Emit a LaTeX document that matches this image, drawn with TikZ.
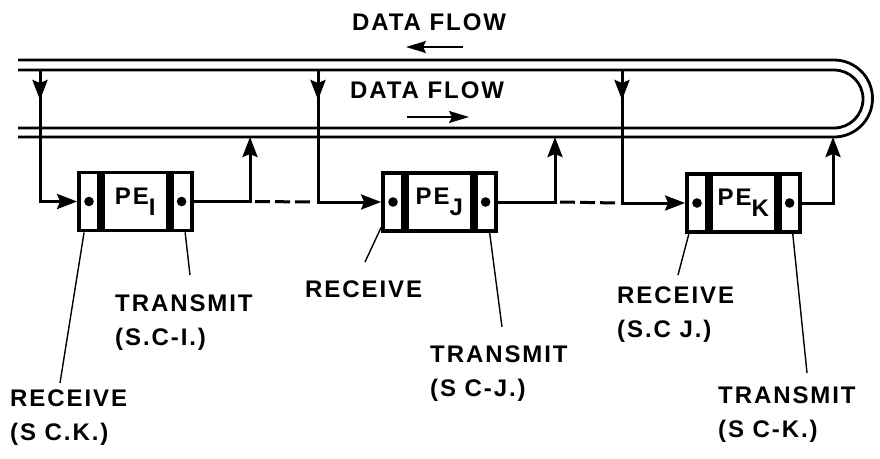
\documentclass[tikz,border=0pt]{standalone}
\usepackage{fontspec}
\setmainfont{Liberation Sans}[LetterSpace=8]
\usetikzlibrary{positioning}
\usetikzlibrary{arrows.meta}
\newcommand{\pesub}[1]{\raisebox{-0.45em}{#1}}
\tikzset{
  bus/.style={line width=2.8pt},
  link/.style={line width=3pt},
  flowline/.style={line width=2pt},
  dashlink/.style={line width=3pt, dash pattern=on 15pt off 5pt},
  tip/.style={-{Stealth[length=20pt,width=15pt,inset=3pt]}},
  thintip/.style={-{Stealth[length=20pt,width=12pt,inset=3pt]}},
  cell/.style={draw, line width=3.8pt, minimum width=20pt, minimum height=58pt, inner sep=0pt},
  core/.style={draw, line width=3.8pt, minimum width=65pt, minimum height=58pt, inner sep=0pt,
    font=\bfseries\fontsize{24}{24}\selectfont},
  lbl/.style={align=left, anchor=north west, inner sep=0pt,
    font=\bfseries\fontsize{24}{34}\selectfont},
  leader/.style={line width=1.4pt},
}

\begin{document}
\begin{tikzpicture}[x=1pt, y=-1pt]
  \useasboundingbox (0,0) rectangle (880,458);

  \draw[bus] (18,60) -- (834,60) arc[start angle=-90, end angle=90, radius=38.5] -- (18,137);
  \draw[bus] (18,70) -- (834,70) arc[start angle=-90, end angle=90, radius=29] -- (18,128);

  \node[lbl] (topflow) at (352,14) {DATA FLOW};
  \node[lbl] (lowflow) at (350,82) {DATA FLOW};
  \coordinate (backA) at (463,47);
  \coordinate (backB) at (406,47);
  \coordinate (fwdA)  at (407,117);
  \coordinate (fwdB)  at (469,117);
  \draw[flowline, thintip] (backA) -- (backB);
  \draw[flowline, thintip] (fwdA) -- (fwdB);

  \coordinate (tapI) at (40,70);
  \coordinate (tapJ) at (318,70);
  \coordinate (tapK) at (622,70);
  \coordinate (upI)  at (250,137);
  \coordinate (upJ)  at (555,137);
  \coordinate (upK)  at (833,137);

  \node[cell] (rI) at (89,201.5) {};
  \node[core, right=0pt of rI] (cI) {PE\pesub{I}};
  \node[cell, right=0pt of cI] (tI) {};

  \node[cell] (rJ) at (393,202) {};
  \node[core, right=0pt of rJ] (cJ) {PE\pesub{J}};
  \node[cell, right=0pt of cJ] (tJ) {};

  \node[cell] (rK) at (697,203) {};
  \node[core, right=0pt of rK] (cK) {PE\pesub{K}};
  \node[cell, right=0pt of cK] (tK) {};

  \foreach \c in {rI,tI,rJ,tJ,rK,tK}{%
    \fill (\c) circle (4.8);
  }

  \foreach \t/\r in {tapI/rI,tapJ/rJ,tapK/rK}{%
    \draw[link, tip] (\t) -- ++(0,30);
    \draw[link, tip] (\t) |- (\r.west);
  }
  \foreach \s/\u in {tI/upI,tJ/upJ,tK/upK}{%
    \draw[link, tip] (\s.east) -| (\u);
  }
  \draw[dashlink] ([xshift=5pt]tI.east -| upI) -- ([xshift=-5pt]rJ.west -| tapJ);
  \draw[dashlink] ([xshift=5pt]tJ.east -| upJ) -- ([xshift=-5pt]rK.west -| tapK);

  \node[lbl] (recvI)  at (10,390)  {RECEIVE\\(S C.K.)};
  \node[lbl] (sendI)  at (115,295) {TRANSMIT\\(S.C-I.)};
  \node[lbl] (recvJ)  at (305,281) {RECEIVE};
  \node[lbl] (sendJ)  at (430,346) {TRANSMIT\\(S C-J.)};
  \node[lbl] (recvK)  at (617,287) {RECEIVE\\(S.C J.)};
  \node[lbl] (sendK)  at (718,387) {TRANSMIT\\(S C-K.)};

  \coordinate (lrI) at (60,383);
  \coordinate (ltI) at (190,275);
  \coordinate (lrJ) at (365,262);
  \coordinate (ltJ) at (502,327);
  \coordinate (lrK) at (678,275);
  \coordinate (ltK) at (807,373);
  \foreach \c/\e in {rI/lrI,tI/ltI,rJ/lrJ,tJ/ltJ,rK/lrK,tK/ltK}{%
    \draw[leader] (\c) -- (\e);
  }
\end{tikzpicture}
\end{document}
